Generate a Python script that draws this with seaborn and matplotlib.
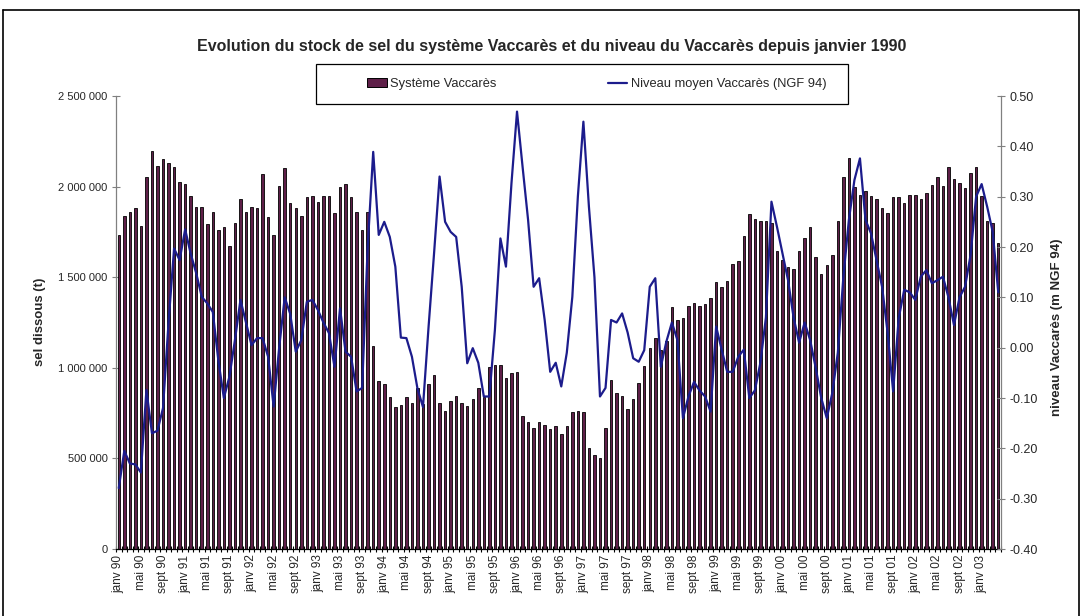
import numpy as np
import matplotlib
matplotlib.use("Agg")
import matplotlib.pyplot as plt
from matplotlib.lines import Line2D
from matplotlib.patches import Patch, Rectangle
from matplotlib.ticker import FuncFormatter, FixedLocator
import seaborn as sns

# ---------------- data ----------------
# stock de sel (millions de tonnes), mensuel janv 90 -> avr 03
stock_sel = [
    1.733, 1.838, 1.858, 1.880, 1.782, 2.051, 2.198, 2.115, 2.150, 2.128,
    2.110, 2.027, 2.016, 1.948, 1.889, 1.889, 1.793, 1.861, 1.762, 1.779,
    1.674, 1.801, 1.930, 1.861, 1.889, 1.883, 2.068, 1.830, 1.733, 2.003,
    2.104, 1.908, 1.880, 1.838, 1.941, 1.950, 1.913, 1.950, 1.950, 1.852,
    1.996, 2.016, 1.941, 1.861, 1.762, 1.861, 1.122, 0.927, 0.911, 0.840,
    0.781, 0.795, 0.837, 0.808, 0.887, 0.800, 0.911, 0.960, 0.808, 0.763,
    0.818, 0.844, 0.808, 0.789, 0.830, 0.887, 0.837, 1.006, 1.015, 1.018,
    0.942, 0.970, 0.975, 0.734, 0.703, 0.666, 0.703, 0.684, 0.662, 0.679,
    0.633, 0.679, 0.758, 0.763, 0.758, 0.556, 0.519, 0.500, 0.666, 0.933,
    0.863, 0.844, 0.771, 0.830, 0.918, 1.010, 1.111, 1.163, 1.100, 1.150,
    1.334, 1.264, 1.273, 1.341, 1.356, 1.341, 1.352, 1.384, 1.472, 1.448,
    1.479, 1.573, 1.591, 1.727, 1.849, 1.820, 1.810, 1.812, 1.800, 1.645,
    1.595, 1.558, 1.543, 1.646, 1.715, 1.775, 1.610, 1.518, 1.567, 1.622,
    1.812, 2.051, 2.160, 2.000, 1.954, 1.978, 1.950, 1.930, 1.880, 1.852,
    1.941, 1.945, 1.908, 1.952, 1.952, 1.930, 1.966, 2.009, 2.051, 2.003,
    2.106, 2.040, 2.018, 1.991, 2.077, 2.110, 1.948, 1.810, 1.800, 1.690,
]

# niveau moyen du Vaccarès (m NGF 94)
niveau = [
    -0.279, -0.205, -0.230, -0.232, -0.248, -0.084, -0.170, -0.165, -0.120, 0.050,
    0.197, 0.174, 0.235, 0.187, 0.148, 0.101, 0.088, 0.071, -0.025, -0.100,
    -0.058, 0.015, 0.095, 0.050, 0.005, 0.019, 0.019, -0.018, -0.117, 0.000,
    0.100, 0.067, -0.008, 0.015, 0.091, 0.095, 0.075, 0.050, 0.029, -0.038,
    0.078, -0.008, -0.018, -0.087, -0.080, 0.200, 0.389, 0.224, 0.250, 0.220,
    0.161, 0.020, 0.019, -0.018, -0.081, -0.118, 0.040, 0.187, 0.340, 0.250,
    0.230, 0.220, 0.121, -0.031, -0.001, -0.030, -0.097, -0.097, 0.035, 0.217,
    0.161, 0.327, 0.469, 0.360, 0.254, 0.121, 0.138, 0.055, -0.048, -0.030,
    -0.077, -0.010, 0.101, 0.300, 0.449, 0.280, 0.140, -0.097, -0.080, 0.055,
    0.050, 0.068, 0.030, -0.021, -0.028, -0.005, 0.121, 0.138, -0.038, 0.012,
    0.050, 0.015, -0.140, -0.097, -0.068, -0.085, -0.097, -0.127, 0.042, -0.004,
    -0.048, -0.048, -0.018, -0.004, -0.100, -0.085, -0.030, 0.060, 0.290, 0.240,
    0.187, 0.134, 0.060, 0.010, 0.050, 0.015, -0.040, -0.100, -0.140, -0.090,
    -0.010, 0.140, 0.254, 0.333, 0.376, 0.254, 0.227, 0.174, 0.121, 0.030,
    -0.087, 0.058, 0.115, 0.110, 0.095, 0.141, 0.154, 0.128, 0.134, 0.141,
    0.100, 0.045, 0.100, 0.121, 0.184, 0.300, 0.325, 0.280, 0.230, 0.110,
]

mois = ["janv", "févr", "mars", "avr", "mai", "juin",
        "juil", "août", "sept", "oct", "nov", "déc"]
annee_debut = 90

title = ("Evolution du stock de sel du système Vaccarès et du niveau "
         "du Vaccarès depuis janvier 1990")
bar_label = "Système Vaccarès"
line_label = "Niveau moyen Vaccarès (NGF 94)"

bar_color = "#5e1f48"
line_color = "#1c1c8c"

# ---------------- figure ----------------
sns.set_style("white")
plt.rcParams["font.family"] = ["Liberation Sans", "DejaVu Sans"]

n = len(stock_sel)
pos = np.arange(n)
labels = [f"{mois[i % 12]} {(annee_debut + i // 12) % 100:02d}" for i in range(n)]

W, H = 1086, 616
fig = plt.figure(figsize=(W / 100, H / 100), dpi=100)
ax = fig.add_axes([116 / W, 1 - 549 / H, 885 / W, 453 / H])

sns.barplot(x=pos, y=np.array(stock_sel) * 1e6, ax=ax, native_scale=True,
            color=bar_color, saturation=1, width=0.45,
            edgecolor="black", linewidth=0.6)

ax2 = ax.twinx()
sns.lineplot(x=pos, y=niveau, ax=ax2, color=line_color, linewidth=1.6)

ax.set_xlim(-0.5, n - 0.5)
ax.set_ylim(0, 2_500_000)
ax.set_yticks(np.arange(0, 2_500_001, 500_000))
ax.yaxis.set_major_formatter(
    FuncFormatter(lambda v, p: f"{int(round(v)):,}".replace(",", " ")))
ax2.set_ylim(-0.40, 0.50)
ax2.set_yticks(np.arange(-0.40, 0.501, 0.10))
ax2.yaxis.set_major_formatter(FuncFormatter(lambda v, p: f"{round(v, 2) + 0.0:.2f}"))

# x ticks: labels every 4 months, marks at every month boundary
ax.xaxis.set_major_locator(FixedLocator(pos[::4]))
ax.set_xticklabels(labels[::4], rotation=90, fontsize=8.5)
ax.xaxis.set_minor_locator(FixedLocator(np.arange(-0.5, n, 1.0)))
ax.tick_params(axis="x", which="major", length=0, pad=4)
ax.tick_params(axis="x", which="minor", length=5, direction="inout",
               width=0.8, color="black", bottom=True)
ax.tick_params(axis="y", length=6, direction="inout", width=0.8,
               color="#808080", labelsize=8, pad=3, left=True)
ax2.tick_params(axis="y", length=6, direction="inout", width=0.8,
                color="#808080", labelsize=9, pad=3, right=True)

for a in (ax, ax2):
    a.spines["top"].set_visible(False)
ax.spines["right"].set_visible(False)
ax.spines["left"].set_color("#808080")
ax.spines["bottom"].set_color("black")
ax2.spines["left"].set_visible(False)
ax2.spines["bottom"].set_visible(False)
ax2.spines["right"].set_color("#808080")
for a in (ax, ax2):
    for s in a.spines.values():
        s.set_linewidth(0.9)
ax.set_xlabel("")
ax2.set_xlabel("")
ax.set_ylabel("")
ax2.set_ylabel("")

fig.text(40 / W, 1 - 322 / H, "sel dissous (t)", rotation=90,
         ha="center", va="center", fontsize=9.5, fontweight="bold")
fig.text(1057 / W, 1 - 327 / H, "niveau Vaccarès (m NGF 94)",
         rotation=90, ha="center", va="center", fontsize=9.5, fontweight="bold")
fig.text(552 / W, 1 - 46 / H, title, ha="center", va="center",
         fontsize=11.5, fontweight="bold")

# legend box + entries
fig.add_artist(Rectangle((316 / W, 1 - 104 / H), 532 / W, 40 / H,
                         transform=fig.transFigure, fill=False,
                         edgecolor="black", linewidth=0.9))
handles = [Patch(facecolor=bar_color, edgecolor="black", linewidth=0.7),
           Line2D([], [], color=line_color, linewidth=1.6)]
fig.legend(handles, [bar_label, line_label], ncol=2, loc="center",
           bbox_to_anchor=(597 / W, 1 - 84 / H), frameon=False,
           fontsize=9.3, handlelength=1.5, handletextpad=0.3,
           columnspacing=8.6, borderpad=0, borderaxespad=0)

# outer chart border
for xs, ys in [([3, 3], [10, H]), ([3, 1079], [10, 10]), ([1079, 1079], [10, H])]:
    fig.add_artist(Line2D([x / W for x in xs], [1 - y / H for y in ys],
                          transform=fig.transFigure, color="black", linewidth=1.2))

fig.savefig("out.png", dpi=100)
plt.close(fig)
